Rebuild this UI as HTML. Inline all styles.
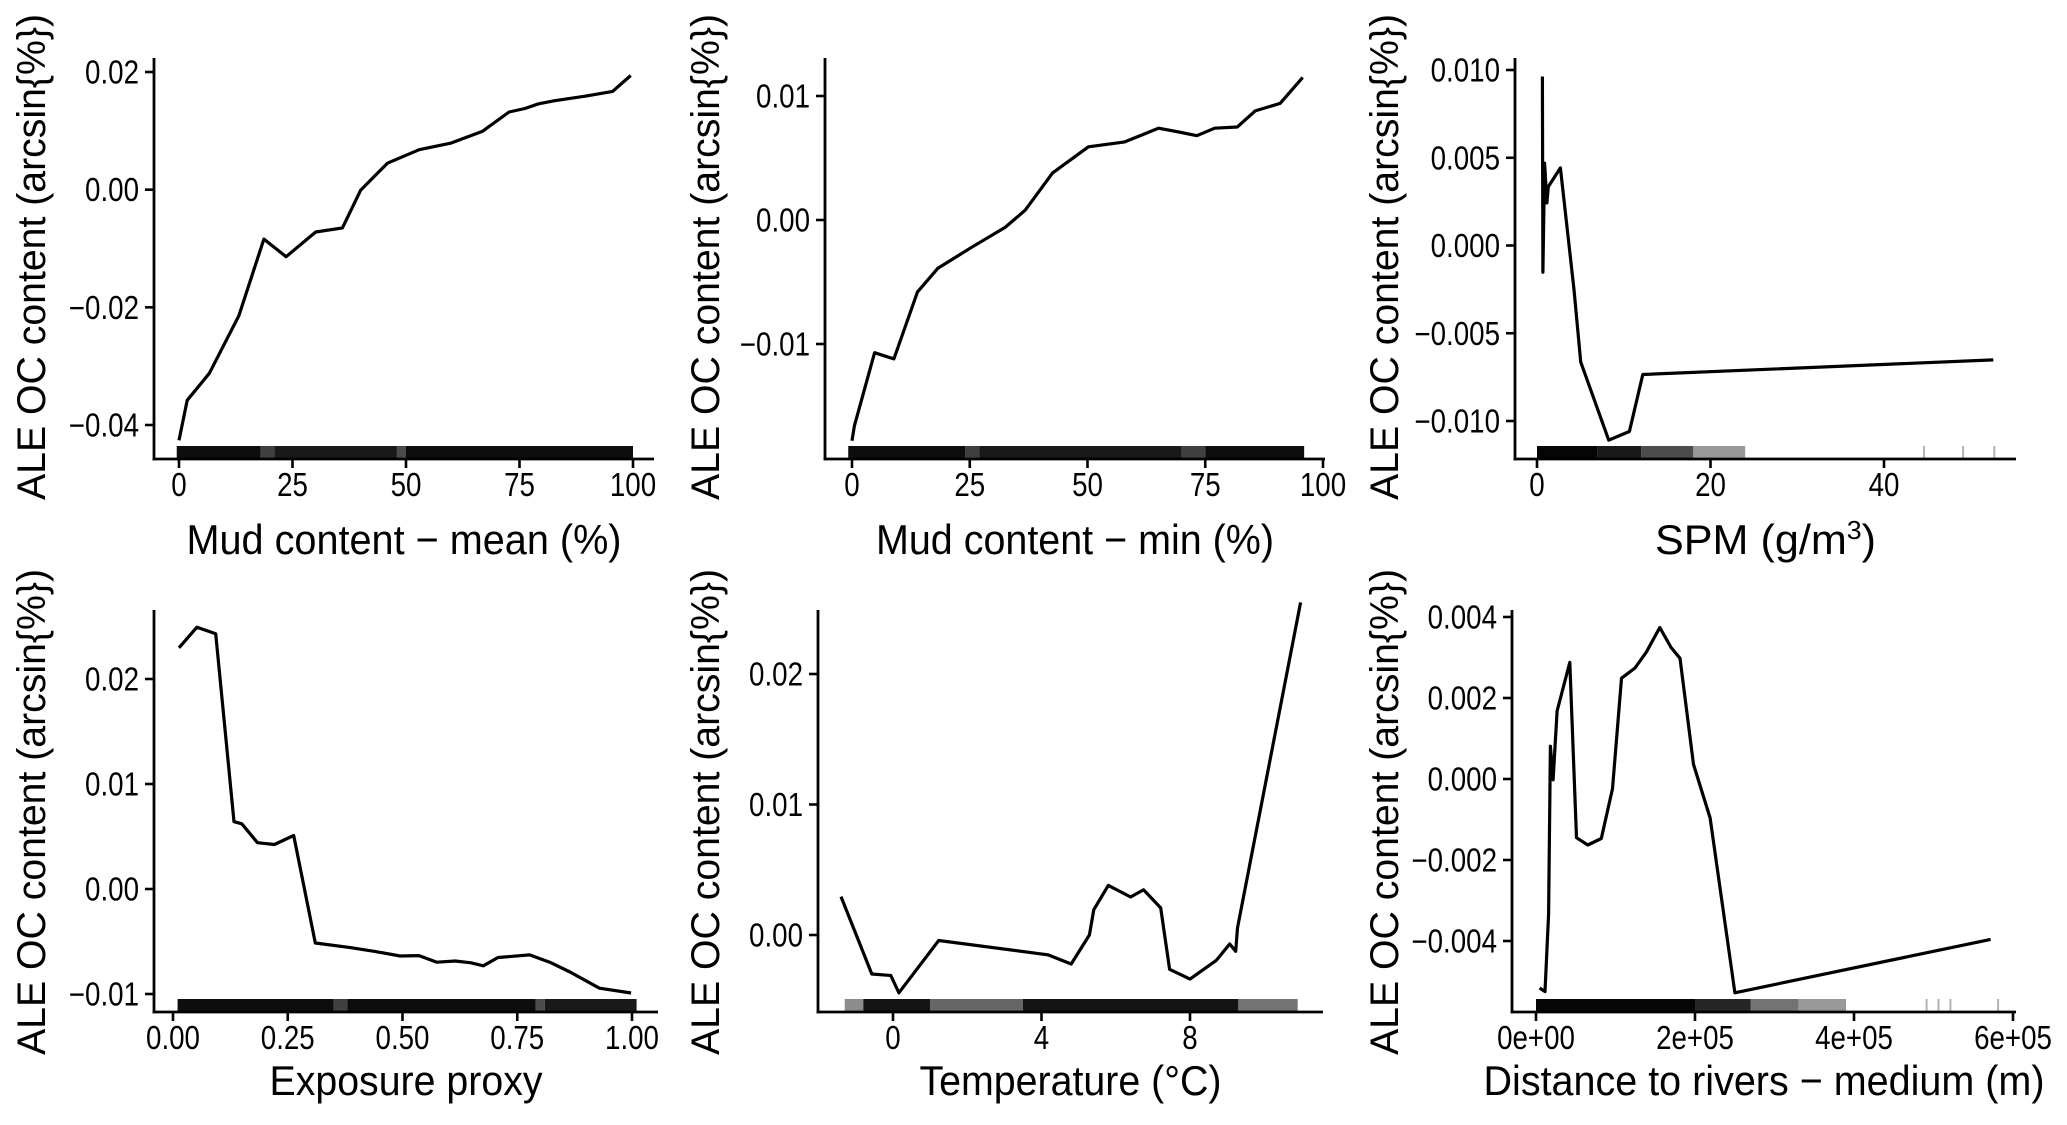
<!DOCTYPE html>
<html><head><meta charset="utf-8"><style>
html,body{margin:0;padding:0;background:#fff;}
svg{display:block;font-family:"Liberation Sans",Arial,sans-serif;}
</style></head><body>
<svg id="fig" width="2067" height="1125" viewBox="0 0 2067 1125" xmlns="http://www.w3.org/2000/svg"></svg>
<script>
// ---- data ----
const p1X=[0,1.8,6.7,13.2,18.7,23.6,30.1,36.0,40.0,45.9,52.9,59.8,66.8,72.7,76.2,79.2,82.6,89.6,95.5,99.5];
const p1Y=[-0.0426,-0.0358,-0.0312,-0.0214,-0.0084,-0.0114,-0.0072,-0.0065,-0.0001,0.0045,0.0068,0.0079,0.0099,0.0132,0.0138,0.0146,0.0151,0.0159,0.0167,0.0194];
const p2X=[0,0.5,4.8,8.9,13.9,18.2,25.4,32.5,36.8,42.6,50.2,57.9,65.1,69.4,73.2,77.0,81.8,85.6,90.9,95.7];
const p2Y=[-0.0178,-0.0166,-0.0107,-0.0112,-0.0058,-0.0039,-0.0022,-0.0006,0.0008,0.0038,0.0059,0.0063,0.0074,0.0071,0.0068,0.0074,0.0075,0.0088,0.0094,0.0115];
const p3X=[0.62,0.68,0.88,1.14,1.3,2.7,4.26,5.04,8.26,10.65,12.2,52.6];
const p3Y=[0.00963,-0.00152,0.00469,0.00243,0.00335,0.00442,-0.00251,-0.00663,-0.01109,-0.0106,-0.00735,-0.00652];
const p4X=[0.013,0.052,0.093,0.133,0.150,0.184,0.221,0.263,0.31,0.388,0.438,0.495,0.536,0.575,0.615,0.649,0.676,0.708,0.777,0.821,0.865,0.929,0.998];
const p4Y=[0.02297,0.02493,0.02431,0.00641,0.00621,0.00441,0.00424,0.0051,-0.00514,-0.00559,-0.00593,-0.00638,-0.00634,-0.00697,-0.00686,-0.00703,-0.00731,-0.00652,-0.00628,-0.00697,-0.0079,-0.00945,-0.0099];
const p5X=[-1.40,-0.57,-0.06,0.16,1.23,4.17,4.80,5.29,5.41,5.80,6.40,6.75,7.21,7.45,8.0,8.71,9.07,9.23,9.28,10.98];
const p5Y=[0.00294,-0.00299,-0.0031,-0.00443,-0.00042,-0.00152,-0.00222,0.0,0.00194,0.0038,0.00291,0.00346,0.00208,-0.00263,-0.00338,-0.00194,-0.00069,-0.00125,0.00055,0.02549];
const p6X=[4500,11300,15800,18100,21500,26600,42500,50900,65100,82100,96200,107500,124500,138700,155700,169800,181100,198100,219000,250200,571800];
const p6Y=[-0.00516,-0.00525,-0.00333,0.00081,-0.00002,0.00168,0.00288,-0.00145,-0.00163,-0.00147,-0.00024,0.00249,0.00274,0.00313,0.00374,0.00325,0.00298,0.00036,-0.00096,-0.00528,-0.00396];
// rug bands: [start, end, opacity]
const p1Rug=[[-0.5,18,0.95],[18,21,0.75],[21,48,0.9],[48,50,0.7],[50,100,0.95]];
const p2Rug=[[-0.8,24,0.95],[24,27,0.75],[27,70,0.9],[70,75,0.75],[75,96,0.95]];
const p3Rug=[[0,7,0.98],[7,12,0.9],[12,18,0.7],[18,24,0.4],[44.5,44.7,0.3],[49,49.2,0.3],[52.6,52.8,0.3]];
const p4Rug=[[0.01,0.35,0.95],[0.35,0.38,0.75],[0.38,0.79,0.95],[0.79,0.81,0.7],[0.81,1.01,0.9]];
const p5Rug=[[-1.3,-0.8,0.45],[-0.8,1.0,0.92],[1.0,3.5,0.6],[3.5,9.3,0.92],[9.3,10.9,0.55]];
const p6Rug=[[0,200000,0.98],[200000,270000,0.85],[270000,330000,0.55],[330000,390000,0.4],[490000,492000,0.3],[505000,507000,0.3],[520000,522000,0.3],[580000,582000,0.3]];
// tick labels
const p1XT=[0,25,50,75,100], p1XL=["0","25","50","75","100"];
const p1YT=[0.02,0,-0.02,-0.04], p1YL=["0.02","0.00","\u22120.02","\u22120.04"];
const p2XT=[0,25,50,75,100], p2XL=["0","25","50","75","100"];
const p2YT=[0.01,0,-0.01], p2YL=["0.01","0.00","\u22120.01"];
const p3XT=[0,20,40], p3XL=["0","20","40"];
const p3YT=[0.01,0.005,0,-0.005,-0.01], p3YL=["0.010","0.005","0.000","\u22120.005","\u22120.010"];
const p4XT=[0,0.25,0.5,0.75,1], p4XL=["0.00","0.25","0.50","0.75","1.00"];
const p4YT=[0.02,0.01,0,-0.01], p4YL=["0.02","0.01","0.00","\u22120.01"];
const p5XT=[0,4,8], p5XL=["0","4","8"];
const p5YT=[0.02,0.01,0], p5YL=["0.02","0.01","0.00"];
const p6XT=[0,200000,400000,600000], p6XL=["0e+00","2e+05","4e+05","6e+05"];
const p6YT=[0.004,0.002,0,-0.002,-0.004], p6YL=["0.004","0.002","0.000","\u22120.002","\u22120.004"];

const NS="http://www.w3.org/2000/svg";
const svg=document.getElementById('fig');
function mk(tag,attrs,parent){const e=document.createElementNS(NS,tag);for(const k in attrs)e.setAttribute(k,attrs[k]);(parent||svg).appendChild(e);return e;}

const panels=[
 {id:'mud-mean',ax:154,top:58,bot:459,right:654,xa:[0,179],xb:[100,633],ya:[0.02,72],yb:[-0.04,425],X:p1X,Y:p1Y,rug:p1Rug,XT:p1XT,XL:p1XL,YT:p1YT,YL:p1YL,title:'Mud content \u2212 mean (%)',tw:435,ylx:45},
 {id:'mud-min',ax:825,top:58,bot:459,right:1325,xa:[0,852],xb:[100,1323],ya:[0.01,96],yb:[-0.01,344],X:p2X,Y:p2Y,rug:p2Rug,XT:p2XT,XL:p2XL,YT:p2YT,YL:p2YL,title:'Mud content \u2212 min (%)',tw:398,ylx:719},
 {id:'spm',ax:1515,top:58,bot:459,right:2016,xa:[0,1537],xb:[40,1884],ya:[0.01,70],yb:[-0.01,421],X:p3X,Y:p3Y,rug:p3Rug,XT:p3XT,XL:p3XL,YT:p3YT,YL:p3YL,title:'SPM',tw:221,ylx:1398,spm:true},
 {id:'exposure',ax:154,top:610,bot:1012,right:658,xa:[0,173],xb:[1,632],ya:[0.02,679],yb:[-0.01,994],X:p4X,Y:p4Y,rug:p4Rug,XT:p4XT,XL:p4XL,YT:p4YT,YL:p4YL,title:'Exposure proxy',tw:273,ylx:45},
 {id:'temperature',ax:818,top:610,bot:1012,right:1323,xa:[0,893],xb:[8,1190],ya:[0.02,674],yb:[0,935],X:p5X,Y:p5Y,rug:p5Rug,XT:p5XT,XL:p5XL,YT:p5YT,YL:p5YL,title:'Temperature (\u00B0C)',tw:302,ylx:719},
 {id:'distance-rivers',ax:1512,top:610,bot:1012,right:2016,xa:[0,1536],xb:[600000,2013],ya:[0.004,617],yb:[-0.004,941],X:p6X,Y:p6Y,rug:p6Rug,XT:p6XT,XL:p6XL,YT:p6YT,YL:p6YL,title:'Distance to rivers \u2212 medium (m)',tw:561,ylx:1398}
];

panels.forEach(p=>{
  const sx=v=>p.xa[1]+(v-p.xa[0])*(p.xb[1]-p.xa[1])/(p.xb[0]-p.xa[0]);
  const sy=v=>p.ya[1]+(v-p.ya[0])*(p.yb[1]-p.ya[1])/(p.yb[0]-p.ya[0]);
  const g=mk('g',{});
  
  
  const rg=mk('g',{},g);
  
  
  p.rug.forEach(b=>{
    const x0=sx(b[0]), x1=sx(b[1]);
    const r=mk('rect',{x:x0,y:p.bot-13,width:Math.max(2,x1-x0),height:13,fill:'#000','fill-opacity':b[2]},rg);
    
    
  });
  const axy=mk('line',{x1:p.ax,y1:p.top,x2:p.ax,y2:p.bot+1.3,stroke:'#000','stroke-width':2.8},g);
  
  
  const axx=mk('line',{x1:p.ax-1.4,y1:p.bot,x2:p.right,y2:p.bot,stroke:'#000','stroke-width':2.8},g);
  
  
  p.XT.forEach((v,i)=>{
    const x=sx(v);
    const t=mk('line',{x1:x,y1:p.bot,x2:x,y2:p.bot+9,stroke:'#000','stroke-width':2.6},g);
    
    
    const l=mk('text',{x:0,y:0,transform:`translate(${x},${p.bot+37}) scale(0.84,1)`,'font-size':33,'text-anchor':'middle',fill:'#000'},g);
    l.textContent=p.XL[i];
    
    
  });
  p.YT.forEach((v,i)=>{
    const y=sy(v);
    const t=mk('line',{x1:p.ax-9,y1:y,x2:p.ax,y2:y,stroke:'#000','stroke-width':2.6},g);
    
    
    const l=mk('text',{x:0,y:0,transform:`translate(${p.ax-15},${y+11.5}) scale(0.84,1)`,'font-size':33,'text-anchor':'end',fill:'#000'},g);
    l.textContent=p.YL[i];
    
    
  });
  const d=p.X.map((v,i)=>(i?'L':'M')+sx(v).toFixed(1)+','+sy(p.Y[i]).toFixed(1)).join(' ');
  const path=mk('path',{d:d,fill:'none',stroke:'#000','stroke-width':3.2,'stroke-linejoin':'round'},g);
  
  
  const cx=(p.ax+p.right)/2;
  const xt=mk('text',{x:cx,y:p.bot+(p.top<100?95:83),'font-size':42,'text-anchor':'middle',fill:'#000',textLength:p.tw,lengthAdjust:'spacingAndGlyphs'},g);
  if(p.spm){
    xt.textContent='SPM (g/m';
    const s=mk('tspan',{'baseline-shift':'super','font-size':26},xt); s.textContent='3';
    const e=mk('tspan',{},xt); e.textContent=')';
  } else xt.textContent=p.title;
  
  
  const cy=(p.top<100)?257:812;
  const yt=mk('text',{x:0,y:0,transform:`translate(${p.ylx},${cy}) rotate(-90)`,'font-size':40,'text-anchor':'middle',fill:'#000',textLength:486,lengthAdjust:'spacingAndGlyphs'},g);
  yt.textContent='ALE OC content (arcsin{%})';
  
  
});
</script>
</body></html>
